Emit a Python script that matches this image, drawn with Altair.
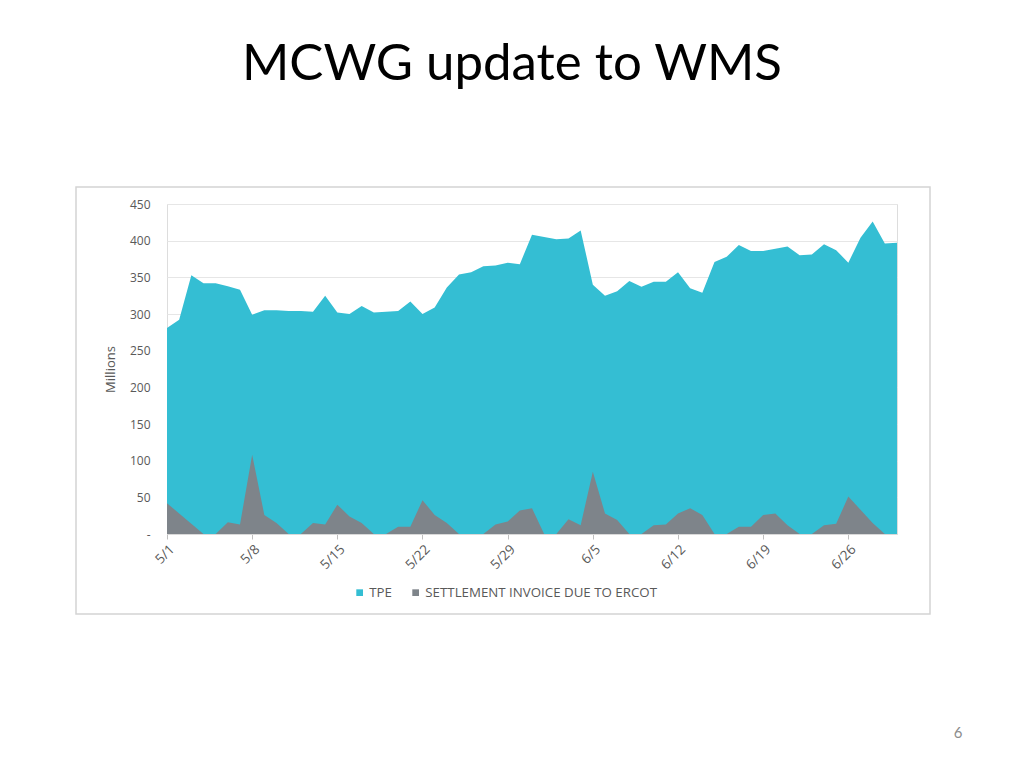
import altair as alt
import pandas as pd

# ---- data (millions) ----
start_date = "2019-05-01"
n_days = 61
tpe = [281, 292, 353, 342, 342, 338, 333, 299, 305, 305,
       304, 304, 303, 325, 302, 300, 311, 302, 303, 304,
       317, 300, 309, 336, 354, 357, 365, 366, 370, 368,
       408, 405, 402, 403, 414, 340, 325, 331, 345, 337,
       344, 344, 357, 335, 329, 371, 378, 394, 386, 386,
       389, 392, 380, 381, 395, 387, 370, 404, 426, 396,
       397]
settlement = [42, 28, 14, 0, 0, 16, 13, 108, 26, 15,
              0, 0, 15, 13, 40, 24, 15, 0, 0, 10,
              10, 46, 26, 15, 0, 0, 0, 13, 17, 32,
              35, 0, 0, 20, 12, 85, 28, 19, 0, 0,
              12, 13, 28, 35, 26, 0, 0, 10, 10, 26,
              28, 12, 0, 0, 12, 14, 51, 33, 15, 0,
              0]
series_names = ["TPE", "SETTLEMENT INVOICE DUE TO ERCOT"]
series_colors = ["#34BED3", "#7E848A"]
tick_days = [0, 7, 14, 21, 28, 35, 42, 49, 56]
y_ticks = [0, 50, 100, 150, 200, 250, 300, 350, 400, 450]

dates = pd.date_range(start_date, periods=n_days, freq="D")
date_str = [d.strftime("%Y-%m-%dT00:00:00") for d in dates]
rows = []
for i in range(n_days):
    rows.append({"date": date_str[i], "series": series_names[0], "value": tpe[i], "order": 0})
for i in range(n_days):
    rows.append({"date": date_str[i], "series": series_names[1], "value": settlement[i], "order": 1})
df = pd.DataFrame(rows)

tick_values = [alt.DateTime(year=dates[d].year, month=dates[d].month, date=dates[d].day) for d in tick_days]

FONT = "Open Sans"
GREY = "#595959"

W, H = 730, 330

base = alt.Chart(df)

area = base.mark_area(opacity=1, interpolate="linear").encode(
    x=alt.X("date:T",
            scale=alt.Scale(domain=[date_str[0], date_str[-1]], nice=False),
            axis=alt.Axis(values=tick_values, format="%-m/%-d", labelAngle=315,
                          title=None, grid=False, labelFont=FONT, labelFontSize=13.5,
                          labelColor=GREY, domainColor="#D9D9D9", tickColor="#BFBFBF",
                          tickSize=5, labelPadding=3, labelFlush=False)),
    y=alt.Y("value:Q", stack=None,
            scale=alt.Scale(domain=[0, 450], nice=False),
            axis=alt.Axis(values=y_ticks, title="Millions", grid=True, gridColor="#E6E6E6",
                          domain=False, ticks=False, labelPadding=17,
                          labelExpr="datum.value == 0 ? '-' : datum.label",
                          labelFont=FONT, labelFontSize=12, labelColor=GREY,
                          titleFont=FONT, titleFontSize=13, titleColor=GREY,
                          titleFontWeight="normal", titleX=-57, titleY=165,
                          titleAngle=270, titleAlign="center", titleBaseline="middle")),
    color=alt.Color("series:N",
                    scale=alt.Scale(domain=series_names, range=series_colors),
                    legend=alt.Legend(title=None, orient="none", direction="horizontal",
                                      legendX=186, legendY=382, symbolType="square",
                                      symbolSize=45, symbolStrokeWidth=0, labelFont=FONT,
                                      labelFontSize=13.3, labelColor=GREY, columnPadding=16,
                                      labelOffset=3, labelLimit=400)),
    order=alt.Order("order:Q"),
)

frame = alt.Chart(pd.DataFrame({"a": [0]})).mark_rect(
    fillOpacity=0, stroke="#D4D4D4", strokeWidth=1.5
).encode(x=alt.value(-91), x2=alt.value(763), y=alt.value(-17), y2=alt.value(410))

title = alt.Chart(pd.DataFrame({"t": ["MCWG update to WMS"]})).mark_text(
    font="Lato", fontSize=51, color="#000000", align="center", baseline="alphabetic"
).encode(text="t:N", x=alt.value(345), y=alt.value(-124))

page = alt.Chart(pd.DataFrame({"t": ["6"]})).mark_text(
    font="Lato", fontSize=15, color="#8C8C8C", align="center", baseline="middle"
).encode(text="t:N", x=alt.value(791), y=alt.value(529))

chart = alt.layer(frame, area, title, page).properties(
    width=W, height=H,
    padding={"left": 159, "top": 196, "right": 119, "bottom": 230},
    autosize=alt.AutoSizeParams(type="none"),
).configure_view(stroke=None).configure(background="white")

chart.save("out.html", embed_options={"renderer": "svg", "actions": False})
